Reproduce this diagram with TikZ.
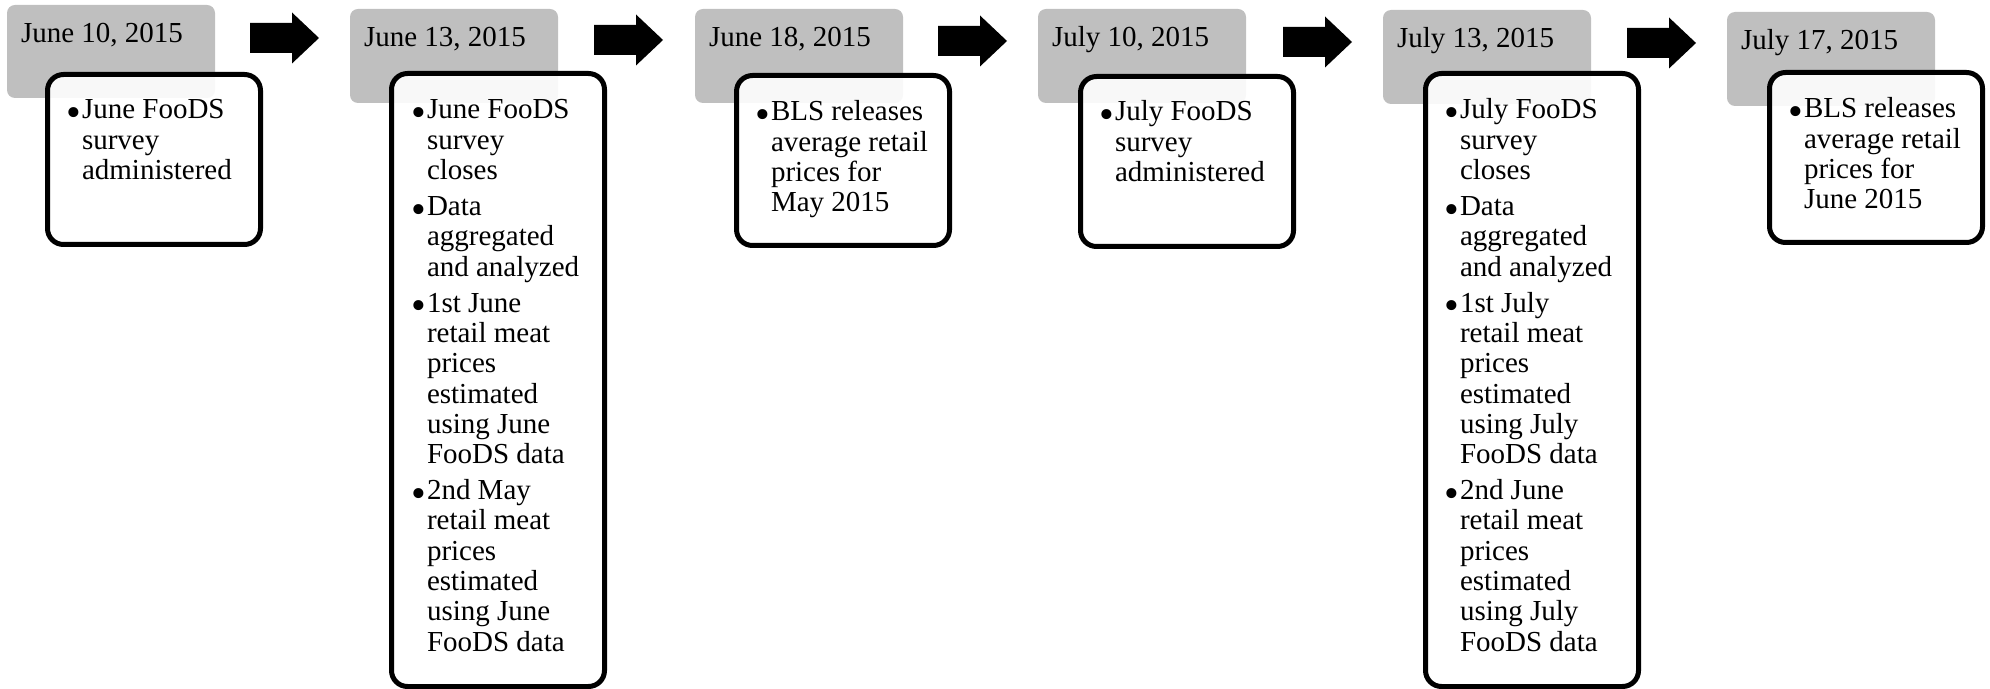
\documentclass[tikz,border=0pt]{standalone}
\usepackage{fontspec}
\setmainfont{Liberation Serif}
\definecolor{boxgray}{HTML}{BFBFBF}
\newcommand{\bul}{\makebox[7pt][l]{\hspace*{-1pt}\raisebox{-3.9pt}{\scalebox{1.45}{•}}}}
\newcommand{\pgap}{\\[2.85pt]}
\newcommand{\tlarrow}[2]{%
  \fill[black] (#1,#2-15) -- (#1+42,#2-15) -- (#1+42,#2-25.5) -- (#1+69,#2)
    -- (#1+42,#2+25.5) -- (#1+42,#2+15) -- (#1,#2+15) -- cycle;}
\tikzset{
  graybox/.style={fill=boxgray, rounded corners=4pt, minimum width=104pt,
    minimum height=47pt, inner sep=0pt, outer sep=0pt, anchor=north west},
  whitebox/.style={draw=black, line width=2.5pt, fill=white, fill opacity=0.9,
    rounded corners=8pt, minimum width=106.5pt, inner sep=0pt, outer sep=0pt,
    anchor=north west},
  shortbox/.style={whitebox, minimum height=85pt},
  tallbox/.style={whitebox, minimum height=306.5pt},
  datetext/.style={anchor=base west, inner sep=0pt, outer sep=0pt,
    font=\fontsize{14.5pt}{15.15pt}\selectfont},
  bodytext/.style={anchor=base west, inner sep=0pt, outer sep=0pt,
    font=\fontsize{14.5pt}{15.15pt}\selectfont},
}
\begin{document}
\begin{tikzpicture}[x=0.5pt,y=-0.5pt]
\useasboundingbox (0,0) rectangle (1990,689);
% gray date boxes
\node[graybox, minimum height=46.5pt] (g1) at (7,5) {};
\node[graybox] (g2) at (350,9) {};
\node[graybox] (g3) at (695,9) {};
\node[graybox] (g4) at (1038,9) {};
\node[graybox] (g5) at (1383,10) {};
\node[graybox] (g6) at (1727,12) {};
% dates
\node[datetext] (d1) at (21,43) {June 10, 2015};
\node[datetext] (d2) at (364,47) {June 13, 2015};
\node[datetext] (d3) at (709,47) {June 18, 2015};
\node[datetext] (d4) at (1052,47) {July 10, 2015};
\node[datetext] (d5) at (1397,48) {July 13, 2015};
\node[datetext] (d6) at (1741,50) {July 17, 2015};
% arrows
\tlarrow{250}{38}
\tlarrow{594}{40}
\tlarrow{938}{41}
\tlarrow{1283}{42}
\tlarrow{1627}{43}
% white boxes
\node[shortbox] (w1) at (47.5,74.5) {};
\node[tallbox]  (w2) at (391.5,73.5) {};
\node[shortbox] (w3) at (736.5,75.5) {};
\node[shortbox] (w4) at (1080.5,76.5) {};
\node[tallbox]  (w5) at (1425.5,73.5) {};
\node[shortbox] (w6) at (1769.5,72.5) {};
% body texts
\node[bodytext] (t1) at (68,119) {\begin{tabular}[t]{@{}l@{}l@{}}
\bul&June FooDS\\&survey\\&administered\end{tabular}};
\node[bodytext] (t2) at (413,119) {\begin{tabular}[t]{@{}l@{}l@{}}
\bul&June FooDS\\&survey\\&closes\pgap
\bul&Data\\&aggregated\\&and analyzed\pgap
\bul&1st June\\&retail meat\\&prices\\&estimated\\&using June\\&FooDS data\pgap
\bul&2nd May\\&retail meat\\&prices\\&estimated\\&using June\\&FooDS data\end{tabular}};
\node[bodytext] (t3) at (757,121) {\begin{tabular}[t]{@{}l@{}l@{}}
\bul&BLS releases\\&average retail\\&prices for\\&May 2015\end{tabular}};
\node[bodytext] (t4) at (1101,121) {\begin{tabular}[t]{@{}l@{}l@{}}
\bul&July FooDS\\&survey\\&administered\end{tabular}};
\node[bodytext] (t5) at (1446,119) {\begin{tabular}[t]{@{}l@{}l@{}}
\bul&July FooDS\\&survey\\&closes\pgap
\bul&Data\\&aggregated\\&and analyzed\pgap
\bul&1st July\\&retail meat\\&prices\\&estimated\\&using July\\&FooDS data\pgap
\bul&2nd June\\&retail meat\\&prices\\&estimated\\&using July\\&FooDS data\end{tabular}};
\node[bodytext] (t6) at (1790,118) {\begin{tabular}[t]{@{}l@{}l@{}}
\bul&BLS releases\\&average retail\\&prices for\\&June 2015\end{tabular}};
\end{tikzpicture}
\end{document}
